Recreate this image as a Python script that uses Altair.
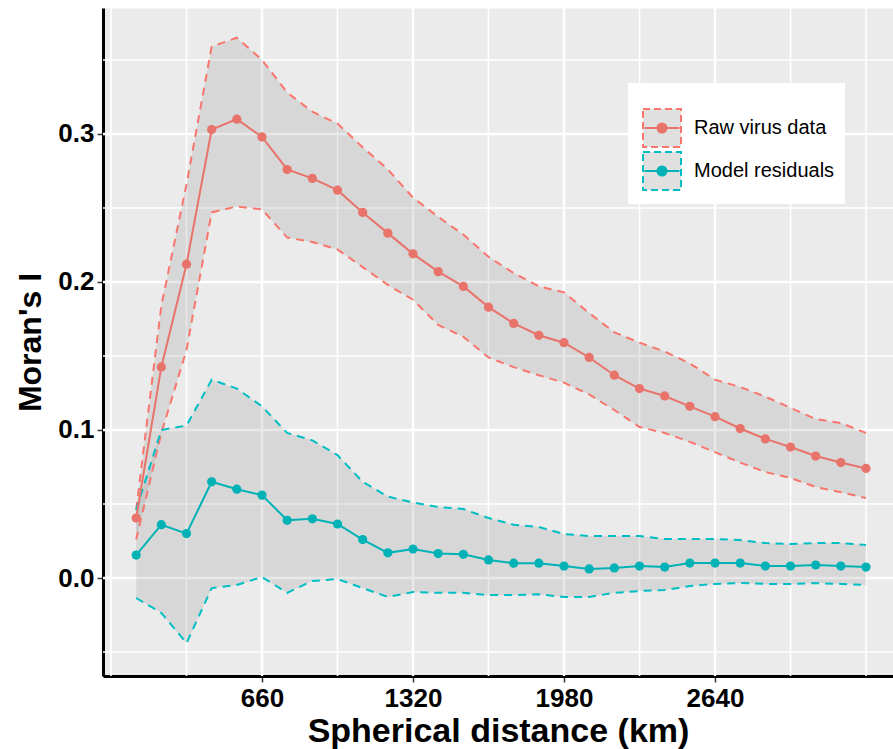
import altair as alt
import pandas as pd

# ---------------- data ----------------
distance_km = [110, 220, 330, 440, 550, 660, 770, 880, 990, 1100,
               1210, 1320, 1430, 1540, 1650, 1760, 1870, 1980, 2090, 2200,
               2310, 2420, 2530, 2640, 2750, 2860, 2970, 3080, 3190, 3300]

raw_mean = [0.0405, 0.1426, 0.212, 0.303, 0.310, 0.298, 0.276, 0.270, 0.262, 0.247,
            0.233, 0.219, 0.207, 0.197, 0.183, 0.172, 0.164, 0.159, 0.149, 0.137,
            0.128, 0.123, 0.116, 0.109, 0.101, 0.094, 0.0885, 0.0824, 0.078, 0.074]
raw_upper = [0.046, 0.184, 0.266, 0.359, 0.365, 0.350, 0.328, 0.315, 0.307, 0.291,
             0.276, 0.257, 0.244, 0.232, 0.217, 0.206, 0.197, 0.193, 0.179, 0.166,
             0.159, 0.153, 0.145, 0.134, 0.129, 0.1225, 0.115, 0.1074, 0.1047, 0.098]
raw_lower = [0.026, 0.098, 0.154, 0.247, 0.251, 0.249, 0.230, 0.227, 0.222, 0.210,
             0.198, 0.188, 0.171, 0.163, 0.149, 0.1425, 0.137, 0.132, 0.124, 0.1135,
             0.102, 0.098, 0.092, 0.085, 0.078, 0.0716, 0.0676, 0.0615, 0.058, 0.054]

res_mean = [0.0155, 0.036, 0.030, 0.065, 0.060, 0.056, 0.039, 0.040, 0.0365, 0.026,
            0.017, 0.0196, 0.0165, 0.016, 0.0122, 0.010, 0.010, 0.0081, 0.0061, 0.0068,
            0.0081, 0.0074, 0.0101, 0.0101, 0.0101, 0.0081, 0.0081, 0.0088, 0.0081, 0.0074]
res_upper = [0.046, 0.100, 0.103, 0.134, 0.128, 0.116, 0.098, 0.093, 0.083, 0.065,
             0.055, 0.051, 0.048, 0.0466, 0.0405, 0.036, 0.0345, 0.0297, 0.0284, 0.0284,
             0.0284, 0.0264, 0.0264, 0.0264, 0.0257, 0.0236, 0.023, 0.0236, 0.0236, 0.0223]
res_lower = [-0.0135, -0.0236, -0.044, -0.0068, -0.0047, 0.0007, -0.010, -0.002, -0.0007, -0.0068,
             -0.0128, -0.0095, -0.010, -0.010, -0.0115, -0.0115, -0.011, -0.0128, -0.0128, -0.010,
             -0.0088, -0.0081, -0.0054, -0.004, -0.0034, -0.004, -0.004, -0.0034, -0.004, -0.0047]

series_names = ["Raw virus data", "Model residuals"]
series_codes = ["raw", "model"]
band_colors = ["#F8766D", "#00BFC4"]
mean_colors = ["#E8736A", "#00B2B6"]

x_labels = [660, 1320, 1980, 2640]
x_grid_major = [660, 1320, 1980, 2640]
x_grid_minor = [0, 330, 990, 1650, 2310, 2970, 3300]
y_labels = [0.0, 0.1, 0.2, 0.3]
y_grid_major = [0.0, 0.1, 0.2, 0.3]
y_grid_minor = [-0.05, 0.05, 0.15, 0.25, 0.35]

# ---------------- tables ----------------
rows = []
for name, code, m, lo, up in [
    (series_names[0], series_codes[0], raw_mean, raw_lower, raw_upper),
    (series_names[1], series_codes[1], res_mean, res_lower, res_upper),
]:
    for d, mv, lv, uv in zip(distance_km, m, lo, up):
        rows.append({"distance": d, "series": name, "code": code,
                     "mean": mv, "lower": lv, "upper": uv})
df = pd.DataFrame(rows)

FONT = "Liberation Sans"
xscale = alt.Scale(domain=[-35, 3418], nice=False, zero=False)
yscale = alt.Scale(domain=[-0.0662, 0.3851], nice=False, zero=False)

x_axis = alt.Axis(values=x_labels, format="d", grid=False, title="Spherical distance (km)",
                  domainColor="black", domainWidth=3, tickColor="#333333",
                  tickWidth=1.5, tickSize=6, labelFont=FONT, labelFontSize=26,
                  labelFontWeight="bold", labelColor="black", labelPadding=3,
                  titleFont=FONT, titleFontSize=34, titleFontWeight="bold",
                  titleColor="black", titlePadding=3)
y_axis = alt.Axis(values=y_labels, format=".1f", grid=False, title="Moran's I",
                  domainColor="black", domainWidth=3, tickColor="#333333",
                  tickWidth=1.5, tickSize=6, labelFont=FONT, labelFontSize=26,
                  labelFontWeight="bold", labelColor="black", labelPadding=3,
                  titleFont=FONT, titleFontSize=32, titleFontWeight="bold",
                  titleColor="black", titlePadding=10)

# ---------------- grid ----------------
gx_major = alt.Chart(pd.DataFrame({"gx": x_grid_major})).mark_rule(
    color="white", strokeWidth=2.4).encode(x=alt.X("gx:Q", scale=xscale, axis=x_axis))
gx_minor = alt.Chart(pd.DataFrame({"gx": x_grid_minor})).mark_rule(
    color="white", strokeWidth=1.6).encode(x=alt.X("gx:Q", scale=xscale, axis=x_axis))
gy_major = alt.Chart(pd.DataFrame({"gy": y_grid_major})).mark_rule(
    color="white", strokeWidth=2.4).encode(y=alt.Y("gy:Q", scale=yscale, axis=y_axis))
gy_minor = alt.Chart(pd.DataFrame({"gy": y_grid_minor})).mark_rule(
    color="white", strokeWidth=1.6).encode(y=alt.Y("gy:Q", scale=yscale, axis=y_axis))

# ---------------- legends ----------------
legend_common = dict(title=" ", orient="none", legendX=525, legendY=75,
                     padding=10, symbolSize=1444, symbolStrokeWidth=2,
                     symbolOffset=4,
                     labelFont=FONT, labelFontSize=20, labelOffset=12,
                     rowPadding=-8, titleFontSize=13, titlePadding=2,
                     labelLimit=400)
legend_a = alt.Legend(fillColor="white", symbolType="square",
                      symbolFillColor="#e0e0e0", symbolDash=[7, 4],
                      labelColor="black",
                      labelExpr="datum.label + '\u00a0\u00a0'",
                      **legend_common)
legend_b = alt.Legend(
    symbolType="M -1 -1 L -1 -1 M 1 1 L 1 1 M -0.92 0 H 0.92 "
               "M 0.24 0 A 0.24 0.24 0 1 1 -0.24 0 A 0.24 0.24 0 1 1 0.24 0 Z",
    labelExpr="''", **legend_common)

base = alt.Chart(df)
X = alt.X("distance:Q", scale=xscale, axis=x_axis)
Ylo = alt.Y("lower:Q", scale=yscale, axis=y_axis)

ribbon = base.mark_area(color="#7f7f7f", opacity=0.18).encode(
    x=X, y=Ylo, y2="upper:Q", detail="series:N")

bounds = base.transform_fold(["lower", "upper"], as_=["bound", "value"]).mark_line(
    strokeDash=[8, 6], strokeWidth=2).encode(
    x=X,
    y=alt.Y("value:Q", scale=yscale, axis=y_axis),
    stroke=alt.Stroke("series:N", scale=alt.Scale(domain=series_names, range=band_colors),
                      legend=legend_a),
    detail="bound:N",
)

color_enc = alt.Color("code:N", scale=alt.Scale(domain=series_codes, range=mean_colors),
                      legend=legend_b)

mean_line = base.mark_line(strokeWidth=2).encode(
    x=X, y=alt.Y("mean:Q", scale=yscale, axis=y_axis), color=color_enc)
mean_pts = base.mark_circle(size=85, opacity=1).encode(
    x=X, y=alt.Y("mean:Q", scale=yscale, axis=y_axis), color=color_enc)

chart = alt.layer(gx_minor, gx_major, gy_minor, gy_major, ribbon, bounds, mean_line, mean_pts).properties(
    width=790, height=668,
    padding={"left": 103, "top": 8, "right": 0, "bottom": 73},
    autosize=alt.AutoSizeParams(type="none"),
    background="white",
).configure_view(fill="#EBEBEB", stroke="transparent")

chart.save("out.html", embed_options={"renderer": "svg", "actions": False})
